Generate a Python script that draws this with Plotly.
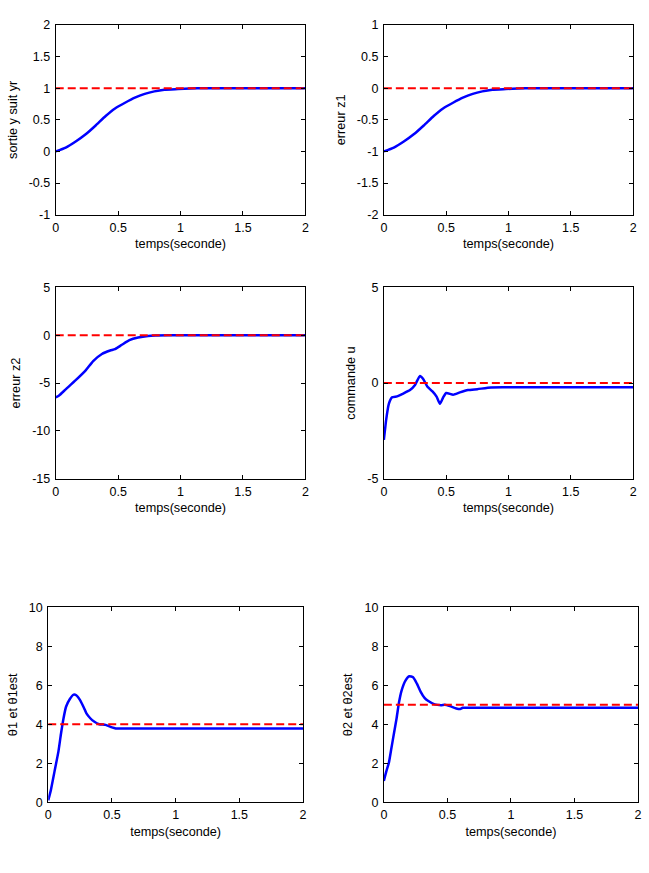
import plotly.graph_objects as go

# ---------------- data ----------------
t_y = [0, 0.08, 0.16, 0.24, 0.32, 0.40, 0.475, 0.555, 0.634, 0.713, 0.79, 0.87, 0.98, 1.08, 1.19, 1.5, 2.0]
y_out = [0.0, 0.06, 0.156, 0.27, 0.41, 0.56, 0.68, 0.77, 0.85, 0.91, 0.95, 0.976, 0.987, 0.997, 1.0, 1.0, 1.0]
yr_ref = 1.0

t_z1 = t_y
z1 = [-1.0, -0.94, -0.844, -0.73, -0.59, -0.44, -0.32, -0.23, -0.15, -0.09, -0.05, -0.024, -0.013, -0.003, 0.0, 0.0, 0.0]
z1_ref = 0.0

t_z2 = [0, 0.027, 0.08, 0.16, 0.24, 0.30, 0.37, 0.436, 0.475, 0.53, 0.59, 0.66, 0.74, 0.8, 0.9, 1.2, 2.0]
z2 = [-6.5, -6.3, -5.66, -4.7, -3.67, -2.7, -1.96, -1.6, -1.45, -1.0, -0.52, -0.24, -0.07, -0.02, 0.0, 0.0, 0.0]
z2_ref = 0.0

t_u = [0, 0.01, 0.018, 0.04, 0.066, 0.106, 0.145, 0.21, 0.25, 0.29, 0.317, 0.35, 0.39, 0.423,
       0.45, 0.476, 0.50, 0.556, 0.61, 0.675, 0.75, 0.86, 0.966, 1.5, 2.0]
u = [-2.97, -2.4, -1.95, -1.09, -0.75, -0.7, -0.58, -0.37, -0.1, 0.37, 0.2, -0.2, -0.44, -0.71,
     -1.09, -0.75, -0.52, -0.61, -0.49, -0.37, -0.32, -0.23, -0.22, -0.22, -0.22]
u_ref = 0.0

t_th1 = [0, 0.02, 0.05, 0.08, 0.1, 0.12, 0.14, 0.17, 0.2, 0.22, 0.25, 0.28, 0.3, 0.33, 0.36,
         0.4, 0.45, 0.5, 0.53, 1.0, 2.0]
th1 = [0.1, 0.6, 1.6, 2.6, 3.5, 4.3, 4.9, 5.3, 5.52, 5.49, 5.24, 4.85, 4.56, 4.31, 4.14,
       4.0, 3.97, 3.84, 3.79, 3.79, 3.79]
th1_ref = 4.0

t_th2 = [0, 0.02, 0.04, 0.06, 0.08, 0.1, 0.12, 0.14, 0.17, 0.2, 0.23, 0.26, 0.29, 0.32, 0.35,
         0.4, 0.45, 0.48, 0.52, 0.57, 0.6, 0.62, 0.65, 1.0, 2.0]
th2 = [1.1, 1.6, 2.04, 2.8, 3.55, 4.3, 5.15, 5.74, 6.24, 6.46, 6.41, 6.08, 5.66, 5.35, 5.19,
       5.02, 4.98, 5.0, 4.93, 4.81, 4.78, 4.85, 4.85, 4.85, 4.85]
th2_ref = 5.0

x_ticks = [0, 0.5, 1, 1.5, 2]
x_ticktext = ["0", "0.5", "1", "1.5", "2"]

panels = [
    dict(t=t_y, v=y_out, ref=yr_ref, title="sortie y suit yr", yr=[-1, 2],
         yt=[-1, -0.5, 0, 0.5, 1, 1.5, 2], ytt=["-1", "-0.5", "0", "0.5", "1", "1.5", "2"]),
    dict(t=t_z1, v=z1, ref=z1_ref, title="erreur z1", yr=[-2, 1],
         yt=[-2, -1.5, -1, -0.5, 0, 0.5, 1], ytt=["-2", "-1.5", "-1", "-0.5", "0", "0.5", "1"]),
    dict(t=t_z2, v=z2, ref=z2_ref, title="erreur z2", yr=[-15, 5],
         yt=[-15, -10, -5, 0, 5], ytt=["-15", "-10", "-5", "0", "5"]),
    dict(t=t_u, v=u, ref=u_ref, title="commande u", yr=[-5, 5],
         yt=[-5, 0, 5], ytt=["-5", "0", "5"]),
    dict(t=t_th1, v=th1, ref=th1_ref, title="θ1 et θ1est", yr=[0, 10],
         yt=[0, 2, 4, 6, 8, 10], ytt=["0", "2", "4", "6", "8", "10"]),
    dict(t=t_th2, v=th2, ref=th2_ref, title="θ2 et θ2est", yr=[0, 10],
         yt=[0, 2, 4, 6, 8, 10], ytt=["0", "2", "4", "6", "8", "10"]),
]

W, H = 649, 873
# pixel boxes (left, right, top, bottom)
boxes = [
    (53.3, 305.7, 18.3, 211.0),
    (385.0, 637.0, 18.3, 211.0),
    (53.3, 305.7, 285.0, 479.3),
    (385.0, 637.0, 285.0, 479.3),
    (45.7, 303.3, 610.0, 808.3),
    (385.0, 642.0, 610.0, 808.3),
]

tfont = dict(family="Liberation Sans, Arial, sans-serif", size=12.5, color="black")
lfont = dict(family="Liberation Sans, Arial, sans-serif", size=12.7, color="black")

fig = go.Figure()
layout = dict(width=W, height=H, margin=dict(l=0, r=0, t=0, b=0),
              paper_bgcolor="white", plot_bgcolor="white", showlegend=False, font=tfont)

for i, (p, b) in enumerate(zip(panels, boxes)):
    k = "" if i == 0 else str(i + 1)
    xa, ya = "x" + k, "y" + k
    fig.add_trace(go.Scatter(x=p["t"], y=p["v"], mode="lines", xaxis=xa, yaxis=ya,
                             line=dict(color="#0000ff", width=2.5, shape="spline", smoothing=0.5)))
    fig.add_trace(go.Scatter(x=[0, 2], y=[p["ref"], p["ref"]], mode="lines", xaxis=xa, yaxis=ya,
                             line=dict(color="#ff0000", width=2, dash="8px,4px")))
    l, r, tp, bt = b
    common = dict(showgrid=False, zeroline=False, showline=True, linecolor="black", linewidth=1,
                  mirror="allticks", ticks="inside", ticklen=4, tickcolor="black", tickfont=tfont)
    layout["xaxis" + k] = dict(domain=[l / W, r / W], range=[0, 2], anchor=ya,
                               tickvals=x_ticks, ticktext=x_ticktext, ticklabelstandoff=1,
                               title=dict(text="temps(seconde)", font=lfont, standoff=5), **common)
    layout["yaxis" + k] = dict(domain=[1 - bt / H, 1 - tp / H], range=p["yr"], anchor=xa,
                               tickvals=p["yt"], ticktext=p["ytt"], ticklabelstandoff=2,
                               title=dict(text=p["title"], font=lfont, standoff=8), **common)

fig.update_layout(**layout)
fig.write_html("out.html")
